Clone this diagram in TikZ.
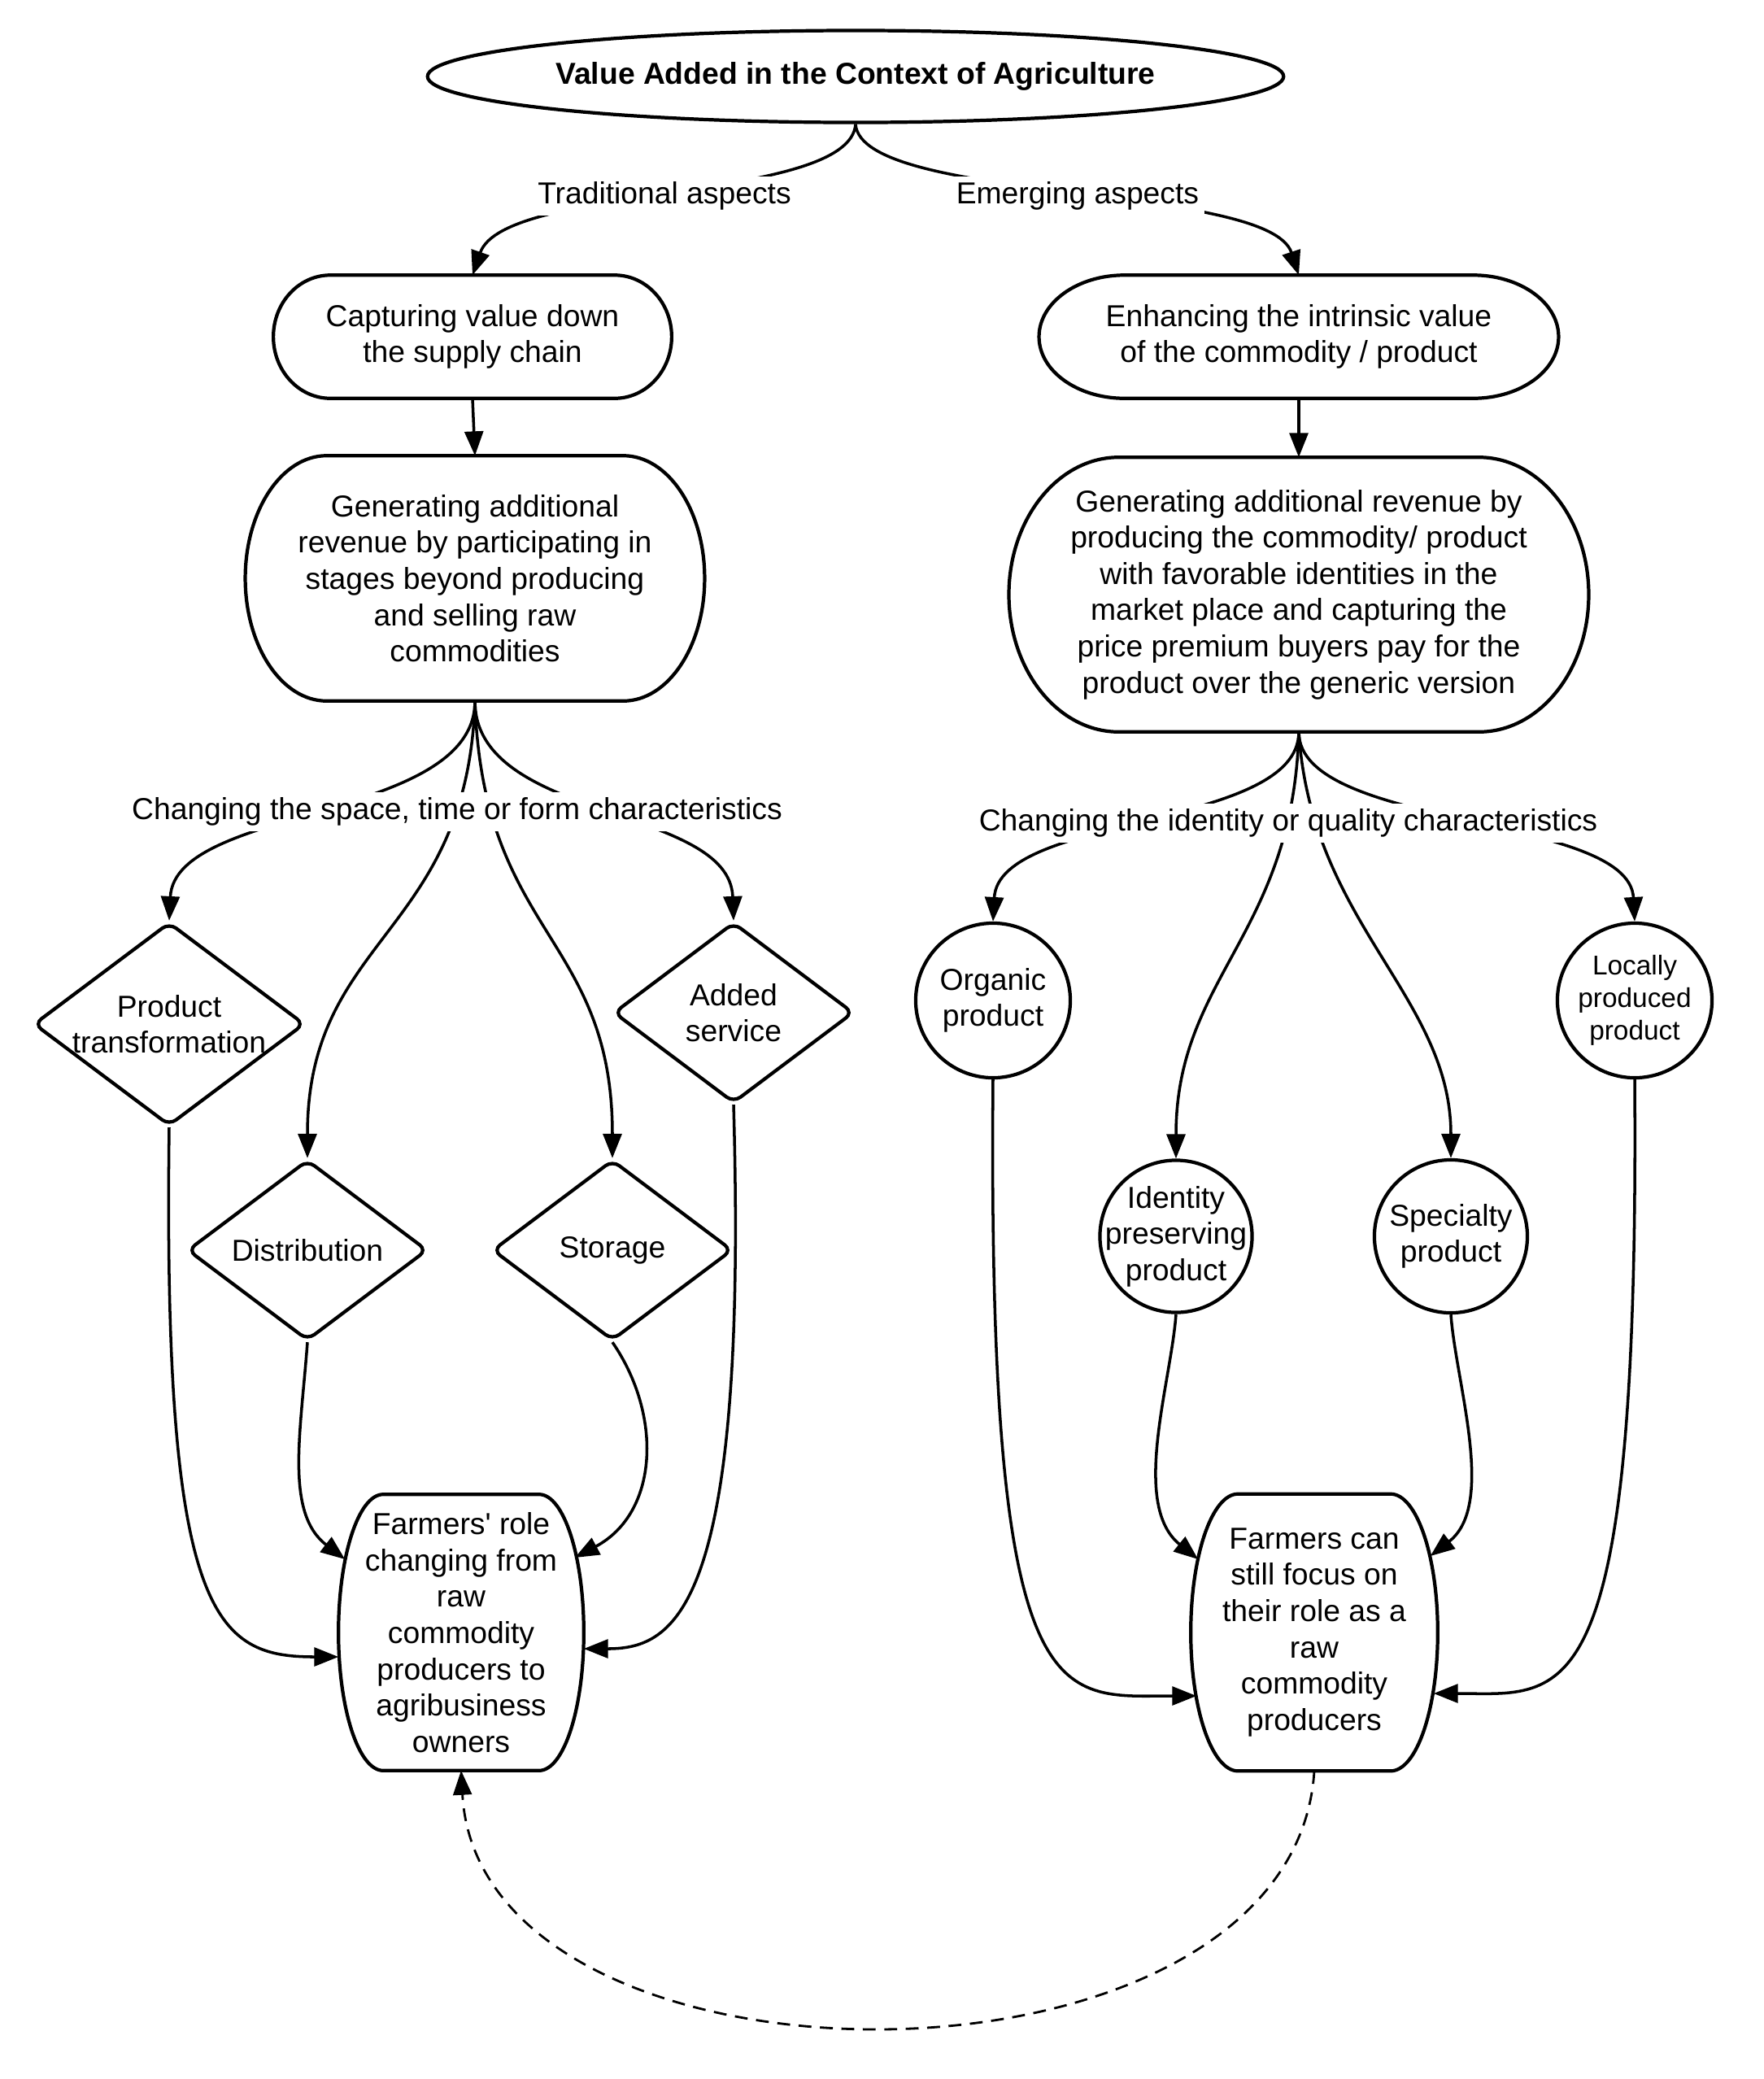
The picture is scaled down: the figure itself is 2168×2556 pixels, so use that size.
\documentclass[tikz,border=0pt]{standalone}
\usepackage{fontspec}
\setmainfont{Liberation Sans}
\usetikzlibrary{arrows.meta,calc,shapes.geometric}
% outline of a capsule-like box (elliptical ends) around a rectangular node
\newcommand\capsuleoutline[2]{%
  \draw[boxline] let \p1=(#1.north east), \p2=(#1.south west), \n1={(\y1-\y2)/2} in
    ($(#1.north west)+(#2,0)$) -- ($(#1.north east)+(-#2,0)$)
    arc[start angle=90, end angle=-90, x radius={#2*0.284528pt}, y radius=\n1]
    -- ($(#1.south west)+(#2,0)$)
    arc[start angle=270, end angle=90, x radius={#2*0.284528pt}, y radius=\n1]
    -- cycle;}
\begin{document}
\begin{tikzpicture}[x=0.01cm,y=-0.01cm,
  every node/.style={font={\fontsize{10.6pt}{12.7pt}\selectfont}},
  boxline/.style={line width=1.2pt},
  capbox/.style={rectangle, inner sep=0pt, align=center},
  ell/.style={ellipse, draw, line width=1.2pt, inner sep=0pt, align=center},
  dia/.style={diamond, draw, line width=1.2pt, rounded corners=3pt, inner sep=-1cm, align=center},
  circ/.style={circle, draw, line width=1.2pt, inner sep=-1cm, align=center},
  lab/.style={fill=white, inner sep=2pt},
  conn/.style={line width=1pt, -{Triangle[length=8.5pt,width=6.5pt]}},
  dconn/.style={line width=0.8pt, dash pattern=on 4.5pt off 3pt, -{Triangle[length=8.5pt,width=6.5pt]}}
]
\useasboundingbox (0,0) rectangle (2168,2556);
\fill[white] (0,0) rectangle (2168,2556);

% ---------- nodes ----------
\node[ell, minimum width=10.52cm, minimum height=1.13cm] (title) at (1052,94)
  {\bfseries Value Added in the Context of Agriculture};

\node[capbox, minimum width=4.88cm, minimum height=1.5cm] (cap) at (581,414)
  {Capturing value down\\the supply chain};
\node[capbox, minimum width=6.37cm, minimum height=1.5cm] (enh) at (1597,414)
  {Enhancing the intrinsic value\\of the commodity / product};

\node[capbox, minimum width=5.63cm, minimum height=3.0cm] (genL) at (584,711)
  {Generating additional\\revenue by participating in\\stages beyond producing\\and selling raw\\commodities};
\node[capbox, minimum width=7.11cm, minimum height=3.36cm] (genR) at (1597,731)
  {Generating additional revenue by\\producing the commodity/ product\\with favorable identities in the\\market place and capturing the\\price premium buyers pay for the\\product over the generic version};

\node[dia, minimum width=3.33cm, minimum height=2.5cm] (pt) at (208,1259) {Product\\transformation};
\node[dia, minimum width=2.95cm, minimum height=2.22cm] (as) at (902,1245) {Added\\service};
\node[dia, minimum width=2.95cm, minimum height=2.22cm] (dist) at (378,1537) {Distribution};
\node[dia, minimum width=2.95cm, minimum height=2.22cm] (stor) at (753,1537) {Storage};

\node[circ, minimum size=1.9cm] (org) at (1221,1230) {Organic\\product};
\node[circ, minimum size=1.9cm, font={\fontsize{9.5pt}{11.3pt}\selectfont}] (loc) at (2010,1230) {Locally\\produced\\product};
\node[circ, minimum size=1.87cm] (ip) at (1446,1520) {Identity\\preserving\\product};
\node[circ, minimum size=1.88cm] (sp) at (1784,1520) {Specialty\\product};

\node[capbox, minimum width=3.0cm, minimum height=3.38cm] (farmL) at (567,2007)
  {Farmers\textquotesingle\ role\\changing from\\raw\\commodity\\producers to\\agribusiness\\owners};
\node[capbox, minimum width=3.02cm, minimum height=3.39cm] (farmR) at (1616,2007)
  {Farmers can\\still focus on\\their role as a\\raw\\commodity\\producers};

\capsuleoutline{cap}{70}
\capsuleoutline{enh}{105}
\capsuleoutline{genL}{100}
\capsuleoutline{genR}{135}
\capsuleoutline{farmL}{55}
\capsuleoutline{farmR}{58}

% ---------- connectors ----------
\draw[conn] (title.south) .. controls (1045,250) and (620,225) .. (cap.north);
\draw[conn] (title.south) .. controls (1059,250) and (1560,225) .. (enh.north);
\draw[conn] (cap.south) -- (genL.north);
\draw[conn] (enh.south) -- (genR.north);

\draw[conn] (genL.south) .. controls (584,1010) and (215,990) .. (pt.north);
\draw[conn] (genL.south) .. controls (575,1150) and (378,1150) .. (dist.north);
\draw[conn] (genL.south) .. controls (593,1150) and (753,1150) .. (stor.north);
\draw[conn] (genL.south) .. controls (584,1010) and (897,990) .. (as.north);

\draw[conn] (genR.south) .. controls (1597,1020) and (1228,1000) .. (org.north);
\draw[conn] (genR.south) .. controls (1590,1150) and (1446,1200) .. (ip.north);
\draw[conn] (genR.south) .. controls (1612,1135) and (1784,1225) .. (sp.north);
\draw[conn] (genR.south) .. controls (1597,1020) and (2003,1000) .. (loc.north);

\coordinate (fLa) at ($(farmL.west)+(8,-90)$);
\coordinate (fLb) at ($(farmL.west)+(0,30)$);
\coordinate (fLc) at ($(farmL.east)+(-11,-92)$);
\coordinate (fLd) at ($(farmL.east)+(0,20)$);
\coordinate (fRa) at ($(farmR.west)+(9,-90)$);
\coordinate (fRb) at ($(farmR.west)+(7,78)$);
\coordinate (fRc) at ($(farmR.east)+(-9,-94)$);
\coordinate (fRd) at ($(farmR.east)+(-5,75)$);

\draw[conn] (pt.south) .. controls (200,1990) and (265,2037) .. (fLb);
\draw[conn] (dist.south) .. controls (370,1760) and (350,1860) .. (fLa);
\draw[conn] (stor.south) .. controls (815,1740) and (810,1860) .. (fLc);
\draw[conn] (as.south) .. controls (920,1980) and (830,2027) .. (fLd);

\draw[conn] (org.south) .. controls (1214,2120) and (1300,2085) .. (fRb);
\draw[conn] (ip.south) .. controls (1440,1700) and (1390,1850) .. (fRa);
\draw[conn] (sp.south) .. controls (1790,1700) and (1840,1850) .. (fRc);
\draw[conn] (loc.south) .. controls (2016,2120) and (1925,2082) .. (fRd);

\draw[dconn] (farmR.south) .. controls (1590,2596) and (590,2596) .. (farmL.south);

% ---------- labels ----------
\node[lab] (ltrad) at (817,241) {Traditional aspects};
\node[lab] (lemer) at (1325,241) {Emerging aspects};
\node[lab] (lspace) at (562,998) {Changing the space, time or form characteristics};
\node[lab] (lident) at (1584,1012) {Changing the identity or quality characteristics};
\end{tikzpicture}
\end{document}
